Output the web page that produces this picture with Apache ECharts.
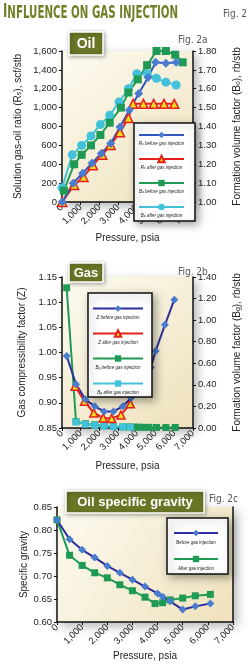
<!DOCTYPE html>
<html lang="en">
<head>
<meta charset="UTF-8">
<title>Influence on gas injection</title>
<script src="https://cdn.jsdelivr.net/npm/echarts@6/dist/echarts.min.js"></script>
<style>html, body { margin: 0; padding: 0; background: #fff; }</style>
</head>
<body>
<div id="main" style="width: 250px; height: 665px;"></div>
<script type="text/javascript">
// Fig. 2a - oil (pressure in psia)
const rsBeforeP = [15, 600, 1100, 1600, 2100, 2600, 3100, 3600, 4100, 4600, 5000, 5550, 6100];
const rsBefore  = [0, 200, 305, 410, 515, 620, 795, 975, 1150, 1320, 1480, 1470, 1480];
const rsAfterP  = [15, 650, 1150, 1650, 2150, 2600, 3100, 3550, 3800, 4350, 4900, 5450, 6000];
const rsAfter   = [0, 180, 265, 390, 500, 605, 740, 890, 1040, 1040, 1040, 1040, 1040];
const boBeforeP = [100, 650, 1050, 1550, 2050, 2550, 3150, 3550, 4050, 4550, 5050, 5550, 6050, 6450];
const boBefore  = [1.06, 1.20, 1.25, 1.30, 1.355, 1.42, 1.50, 1.58, 1.65, 1.725, 1.80, 1.80, 1.78, 1.74];
const boAfterP  = [0, 550, 1050, 1550, 2050, 2550, 3050, 3550, 4000, 4550, 5050, 5550, 6100];
const boAfter   = [1.075, 1.25, 1.30, 1.35, 1.41, 1.46, 1.53, 1.60, 1.68, 1.68, 1.655, 1.635, 1.62];

// Fig. 2b - gas
const zBeforeP  = [250, 750, 1250, 1750, 2250, 2750, 3250, 3700, 4000, 4250, 4550, 4750, 5000, 5500, 6000];
const zBefore   = [0.993, 0.937, 0.907, 0.893, 0.883, 0.883, 0.893, 0.91, 0.925, 0.94, 0.958, 0.97, 1.003, 1.055, 1.105];
const zAfterP   = [700, 1200, 1700, 2200, 2650, 3150, 3650];
const zAfter    = [0.933, 0.903, 0.88, 0.87, 0.869, 0.876, 0.898];
const bgBeforeP = [250, 750, 1250, 1750, 2250, 2750, 3250, 3600, 3850, 4100, 4350, 4650, 5050, 5550, 6050];
const bgBefore  = [1.30, 0.06, 0.04, 0.03, 0.02, 0.015, 0.01, 0.01, 0.008, 0.008, 0.006, 0.006, 0.005, 0.005, 0.005];
const bgAfterP  = [750, 1250, 1750, 2250, 2750, 3250, 3650];
const bgAfter   = [0.055, 0.035, 0.025, 0.018, 0.013, 0.01, 0.008];

// Fig. 2c - oil specific gravity
const sgBeforeP = [0, 500, 1000, 1500, 2000, 2500, 3000, 3500, 4000, 4200, 4500, 5000, 5500, 6100];
const sgBefore  = [0.822, 0.780, 0.757, 0.740, 0.722, 0.707, 0.692, 0.677, 0.662, 0.655, 0.645, 0.627, 0.634, 0.640];
const sgAfterP  = [0, 500, 1000, 1500, 2000, 2500, 3000, 3500, 3900, 4200, 4500, 5000, 5500, 6100];
const sgAfter   = [0.822, 0.745, 0.723, 0.707, 0.696, 0.681, 0.668, 0.654, 0.640, 0.642, 0.648, 0.652, 0.657, 0.660];

const FONT = 'Liberation Sans, Arial, sans-serif';
const NARROW = 'Liberation Sans Narrow, DejaVu Sans Condensed, Liberation Sans, sans-serif';
const OLIVE = '#6b7526';

function pts(xs, ys) {
    return xs.map((x, i) => [x, ys[i]]);
}

// "R_s before ..." -> rich text with a subscript
function richName(n) {
    const m = n.match(/^(\w)_(\w)(.*)$/);
    return m ? '{t|' + m[1] + '}{s|' + m[2] + '}{t|' + m[3] + '}' : '{t|' + n + '}';
}

const nameRich = {
    t: { fontSize: 10, color: '#222', fontFamily: FONT },
    s: { fontSize: 7, color: '#222', fontFamily: FONT, verticalAlign: 'bottom' }
};

let myChart = echarts.init(document.getElementById('main'));

function plotGrid(left, top, width, height) {
    return {
        left, top, width, height, show: true, borderWidth: 0,
        backgroundColor: new echarts.graphic.LinearGradient(0, 0, 1, 1, [
            { offset: 0, color: '#fdfbf1' },
            { offset: 1, color: '#eee1bb' }
        ]),
        shadowBlur: 10, shadowColor: 'rgba(0,0,0,0.3)', shadowOffsetX: 4, shadowOffsetY: 4
    };
}

function xAxisFor(gridIndex, nameGap) {
    return {
        gridIndex, type: 'value', min: 0, max: 7000, interval: 1000,
        name: 'Pressure, psia', nameLocation: 'middle', nameGap, nameMoveOverlap: false,
        nameTextStyle: { fontSize: 10, color: '#222' },
        axisLine: { show: true, lineStyle: { color: '#111', width: 1.5 } },
        axisTick: { show: true, length: 3, lineStyle: { color: '#111' } },
        axisLabel: { rotate: 45, fontSize: 9.5, color: '#222', margin: 4,
            formatter: v => v.toLocaleString('en-US') },
        splitLine: { show: false }
    };
}

function yAxisFor(gridIndex, position, min, max, interval, fmt, name, nameGap) {
    return {
        gridIndex, type: 'value', position, min, max, interval,
        name, nameLocation: 'middle', nameGap, nameRotate: 90, nameMoveOverlap: false,
        nameTextStyle: { fontSize: 10, color: '#222', rich: nameRich },
        axisLine: { show: true, lineStyle: { color: '#111', width: 1.5 } },
        axisTick: { show: true, length: 3, lineStyle: { color: '#111' } },
        axisLabel: { show: fmt != null, fontSize: 9.5, color: '#222', margin: 5, formatter: fmt },
        splitLine: { show: false }
    };
}

const comma = v => v.toLocaleString('en-US');
const dec2 = v => v.toFixed(2);

function makeLegend(names, left, top, w, pad, drop, italic) {
    return {
        data: names, orient: 'vertical', left, top,
        itemWidth: w, itemHeight: 8, itemGap: 2, padding: pad,
        backgroundColor: '#fff', borderColor: '#111', borderWidth: 1.5,
        shadowBlur: 8, shadowColor: 'rgba(0,0,0,0.35)', shadowOffsetX: 3, shadowOffsetY: 3,
        selectedMode: false,
        formatter: richName,
        textStyle: {
            width: w, overflow: 'none', lineHeight: 5,
            padding: [drop * 2, 0, 0, -(w + 5)],
            rich: {
                t: { fontSize: 4.5, color: '#222', align: 'center', fontStyle: italic ? 'italic' : 'normal' },
                s: { fontSize: 3.5, color: '#222', align: 'center', verticalAlign: 'bottom' }
            }
        }
    };
}

// series styles
const blue = (navy) => ({
    type: 'line', symbol: 'diamond', symbolSize: 9, clip: false,
    itemStyle: { color: '#4a7dd0' },
    lineStyle: { color: navy ? '#2e2e9c' : '#3058be', width: 2 }
});
const red = {
    type: 'line', symbol: 'triangle', symbolSize: 9, clip: false,
    itemStyle: { color: '#f6d81c', borderColor: '#e3221b', borderWidth: 1.5 },
    lineStyle: { color: '#e3221b', width: 2 }
};
const green = {
    type: 'line', symbol: 'rect', symbolSize: 8, clip: false,
    itemStyle: { color: '#1f9a55' },
    lineStyle: { color: '#1f9a55', width: 2 }
};
const cyan = (sym) => ({
    type: 'line', symbol: sym, symbolSize: sym === 'circle' ? 9 : 7, clip: false,
    itemStyle: { color: '#42c2da' },
    lineStyle: { color: '#42c2da', width: 2 }
});

function boxLabel(x, y, w, h, text, size) {
    return {
        type: 'group', x, y, z: 10,
        children: [
            { type: 'rect', shape: { width: w, height: h },
              style: { fill: OLIVE, stroke: '#fff', lineWidth: 1.5,
                       shadowBlur: 4, shadowColor: 'rgba(0,0,0,0.35)', shadowOffsetX: 1, shadowOffsetY: 1 } },
            { type: 'text', x: w / 2, y: h / 2 + 0.5,
              style: { text, fill: '#fff', fontSize: size, fontWeight: 'bold', fontFamily: FONT,
                       align: 'center', verticalAlign: 'middle' } }
        ]
    };
}

function figLabel(x, y, text) {
    return { type: 'text', x, y, z: 10,
        style: { text, fill: '#555', fontSize: 10, fontFamily: NARROW, verticalAlign: 'top' } };
}

let options = {
    animation: false,
    textStyle: { fontFamily: FONT },
    grid: [
        plotGrid(62, 51, 140, 151),
        plotGrid(62, 277, 140, 151),
        plotGrid(57, 507, 176, 115)
    ],
    xAxis: [xAxisFor(0, 31), xAxisFor(1, 33), xAxisFor(2, 29)],
    yAxis: [
        yAxisFor(0, 'left', 0, 1600, 200, comma, '{t|Solution gas-oil ratio (R}{s|s}{t|), scf/stb}', 39),
        yAxisFor(0, 'right', 1.0, 1.8, 0.1, dec2, '{t|Formation volume factor (B}{s|o}{t|), rb/stb}', 39),
        yAxisFor(1, 'left', 0.85, 1.15, 0.05, dec2, '{t|Gas compressibility factor (Z)}', 35),
        yAxisFor(1, 'right', 0, 1.4, 0.2, dec2, '{t|Formation volume factor (B}{s|g}{t|), rb/stb}', 39),
        yAxisFor(2, 'left', 0.60, 0.85, 0.05, dec2, '{t|Specific gravity}', 28),
        Object.assign(yAxisFor(2, 'right', 0.60, 0.85, 0.05, null, '', 10), { axisTick: { show: false } })
    ],
    legend: [
        makeLegend(['R_s before gas injection', 'R_s after gas injection',
                    'B_o before gas injection', 'B_o after gas injection'], 134, 123, 45, [1, 6, 3, 4], 8.5, true),
        makeLegend(['Z before gas injection', 'Z after gas injection',
                    'B_g before gas injection', 'B_g after gas injection'], 88, 293, 50, [4, 4, 2, 4], 9, true),
        makeLegend(['Before gas injection', 'After gas injection'], 167, 518, 44, [3, 5, 3, 6], 9.5, false)
    ],
    series: [
        Object.assign(cyan('circle'), { name: 'B_o after gas injection', xAxisIndex: 0, yAxisIndex: 1, data: pts(boAfterP, boAfter) }),
        Object.assign({}, green, { name: 'B_o before gas injection', xAxisIndex: 0, yAxisIndex: 1, data: pts(boBeforeP, boBefore) }),
        Object.assign({}, red, { name: 'R_s after gas injection', xAxisIndex: 0, yAxisIndex: 0, data: pts(rsAfterP, rsAfter) }),
        Object.assign(blue(false), { name: 'R_s before gas injection', xAxisIndex: 0, yAxisIndex: 0, data: pts(rsBeforeP, rsBefore) }),

        Object.assign({}, green, { name: 'B_g before gas injection', xAxisIndex: 1, yAxisIndex: 3, symbolSize: 7, data: pts(bgBeforeP, bgBefore) }),
        Object.assign(cyan('rect'), { name: 'B_g after gas injection', xAxisIndex: 1, yAxisIndex: 3, data: pts(bgAfterP, bgAfter) }),
        Object.assign({}, red, { name: 'Z after gas injection', xAxisIndex: 1, yAxisIndex: 2, symbolSize: 8, data: pts(zAfterP, zAfter) }),
        Object.assign(blue(true), { name: 'Z before gas injection', xAxisIndex: 1, yAxisIndex: 2, symbolSize: 8, data: pts(zBeforeP, zBefore) }),

        Object.assign({}, green, { name: 'After gas injection', xAxisIndex: 2, yAxisIndex: 4, symbolSize: 7, data: pts(sgAfterP, sgAfter) }),
        Object.assign(blue(true), { name: 'Before gas injection', xAxisIndex: 2, yAxisIndex: 4, symbolSize: 8, data: pts(sgBeforeP, sgBefore) })
    ],
    graphic: [
        { type: 'text', x: 3, y: 2, scaleX: 0.67, z: 10,
          style: { text: '{a|I}{b|NFLUENCE ON GAS INJECTION}', verticalAlign: 'top',
                   rich: {
                       a: { fontSize: 19.5, fontWeight: 'bold', fontFamily: NARROW, fill: '#6e8128', verticalAlign: 'bottom' },
                       b: { fontSize: 17, fontWeight: 'bold', fontFamily: NARROW, fill: '#6e8128', verticalAlign: 'bottom' }
                   } } },
        figLabel(223, 9, 'Fig. 2'),
        boxLabel(69, 32, 34, 23, 'Oil', 14),
        figLabel(178, 35, 'Fig. 2a'),
        boxLabel(69, 263, 34, 19, 'Gas', 13),
        figLabel(178, 267, 'Fig. 2b'),
        boxLabel(66, 491, 138, 22, 'Oil specific gravity', 13),
        figLabel(209, 494, 'Fig. 2c')
    ]
};

myChart.setOption(options);

window.addEventListener('resize', () => {
    myChart.resize();
});
</script>
</body>
</html>
